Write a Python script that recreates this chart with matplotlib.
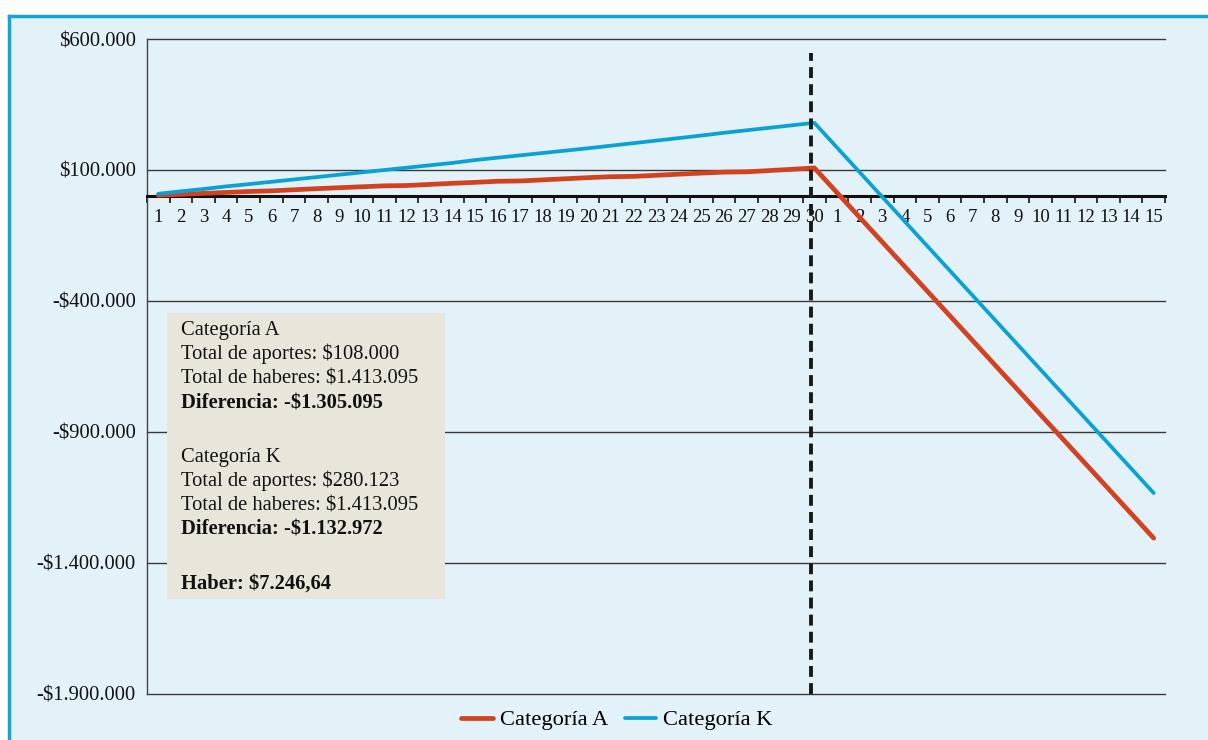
import matplotlib
matplotlib.use("Agg")
import matplotlib.pyplot as plt
from matplotlib.patches import Rectangle
from matplotlib.ticker import FixedLocator, FuncFormatter

# Years of contributions (1-30) followed by years of benefits (1-15)
tick_labels = [str(i) for i in range(1, 31)] + [str(i) for i in range(1, 16)]

# Cumulative balance, Categoría A
cat_a = [3600, 7200, 10800, 14400, 18000, 20400, 24600, 28800, 32400, 36000,
         39600, 40800, 45000, 49200, 52800, 57000, 58200, 62400, 66600, 70800,
         74400, 75600, 79800, 84000, 88200, 91800, 93000, 97800, 102600, 108000,
         13794, -80413, -174619, -268825, -363032, -457238, -551444, -645651,
         -739857, -834063, -928270, -1022476, -1116682, -1210889, -1305095]

# Cumulative balance, Categoría K
cat_k = [9300, 18600, 27500, 37500, 46000, 55000, 64000, 73000, 82000, 91000,
         100000, 109000, 118000, 127000, 138000, 147000, 156000, 165000, 174000, 183000,
         192700, 202400, 212100, 221800, 231500, 242000, 251500, 261000, 270500, 280123,
         185917, 91710, -2496, -96702, -190909, -285115, -379321, -473528,
         -567734, -661940, -756147, -850353, -944559, -1038766, -1132972]

y_ticks = [600000, 100000, -400000, -900000, -1400000, -1900000]

summary_lines = [
    ("Categoría A", "normal"),
    ("Total de aportes: $108.000", "normal"),
    ("Total de haberes: $1.413.095", "normal"),
    ("Diferencia: -$1.305.095", "bold"),
    ("", "normal"),
    ("Categoría K", "normal"),
    ("Total de aportes: $280.123", "normal"),
    ("Total de haberes: $1.413.095", "normal"),
    ("Diferencia: -$1.132.972", "bold"),
    ("", "normal"),
    ("Haber: $7.246,64", "bold"),
]

RED = "#D2421E"
BLUE = "#0AA2D4"
BG = "#E3F1F9"
FRAME = "#12A6DC"
BOX = "#E8E6DB"

plt.rcParams["font.family"] = ["Liberation Serif", "DejaVu Serif"]

W, H = 1208, 740
fig = plt.figure(figsize=(W / 100, H / 100), dpi=100)
fig.patch.set_facecolor("white")

# Light blue panel with a blue border on top and left
fig.patches.append(Rectangle((9 / W, 0), 1.0, 1 - 16 / H, transform=fig.transFigure,
                             facecolor=BG, edgecolor="none", zorder=-5))
fig.lines.append(plt.Line2D([9 / W, 9 / W], [0, 1 - 16 / H], transform=fig.transFigure,
                            color=FRAME, lw=2.5, zorder=-4))
fig.lines.append(plt.Line2D([9 / W, 1.0], [1 - 16 / H, 1 - 16 / H], transform=fig.transFigure,
                            color=FRAME, lw=2.5, zorder=-4))

left, right, top, bottom = 147, 1165, 39, 694
ax = fig.add_axes([left / W, 1 - bottom / H, (right - left) / W, (bottom - top) / H])
ax.set_facecolor("none")
ax.set_zorder(1)

x = list(range(len(tick_labels)))
ax.plot(x, cat_a, color=RED, lw=3.4, solid_capstyle="round", label="Categoría A", zorder=4)
ax.plot(x, cat_k, color=BLUE, lw=2.7, solid_capstyle="round", label="Categoría K", zorder=4)

ax.set_xlim(-0.5, len(x) - 0.5)
ax.set_ylim(-1900000, 600000)

# Horizontal gridlines
for v in y_ticks:
    ax.axhline(v, color="#3A3A3A", lw=1.0, zorder=1, clip_on=False)

ax.yaxis.set_major_locator(FixedLocator(y_ticks))
ax.yaxis.set_major_formatter(FuncFormatter(
    lambda v, p: ("-$" if v < 0 else "$") + f"{abs(int(v)):,}".replace(",", ".")))
ax.tick_params(axis="y", length=0, labelsize=14.8, pad=8, colors="#111111")

# Category axis along zero with ticks between categories
ax.spines["bottom"].set_position(("data", 0))
ax.spines["bottom"].set_linewidth(2.2)
ax.spines["bottom"].set_color("#111111")
ax.spines["bottom"].set_zorder(3)
ax.spines["top"].set_visible(False)
ax.spines["right"].set_visible(False)
ax.spines["left"].set_color("#444444")
ax.spines["left"].set_linewidth(1.0)
ax.set_xticks(x)
ax.set_xticklabels(tick_labels)
ax.set_xticks([i - 0.5 for i in range(len(x) + 1)], minor=True)
ax.tick_params(axis="x", which="major", length=0, labelsize=13.5, pad=9, colors="#111111")
ax.tick_params(axis="x", which="minor", length=5, width=1.2, direction="out", color="#111111")

# Dashed divider between contribution and benefit periods
ax.plot([28.85, 28.85], [-1900000, 545000], color="#1A1A1A", lw=2.8,
        linestyle=(0, (2.8, 1.6)), zorder=5)

# Summary box
bx0, by0, bx1, by1 = 167, 313, 445, 599
fig.patches.append(Rectangle((bx0 / W, 1 - by1 / H), (bx1 - bx0) / W, (by1 - by0) / H,
                             transform=fig.transFigure, facecolor=BOX, edgecolor="none",
                             zorder=6))
baseline = 335.0
for text, weight in summary_lines:
    if text:
        fig.text(181 / W, 1 - baseline / H, text, fontsize=14.8, fontweight=weight,
                 va="baseline", ha="left", color="#111111", zorder=7)
        baseline += 24.4
    else:
        baseline += 29.0

leg = fig.legend(loc="center", bbox_to_anchor=(617 / W, 1 - 720 / H), ncol=2,
                 frameon=False, fontsize=16.2, handlelength=1.4, handletextpad=0.3,
                 columnspacing=0.75)

fig.savefig("out.png", dpi=100, facecolor=fig.get_facecolor())
